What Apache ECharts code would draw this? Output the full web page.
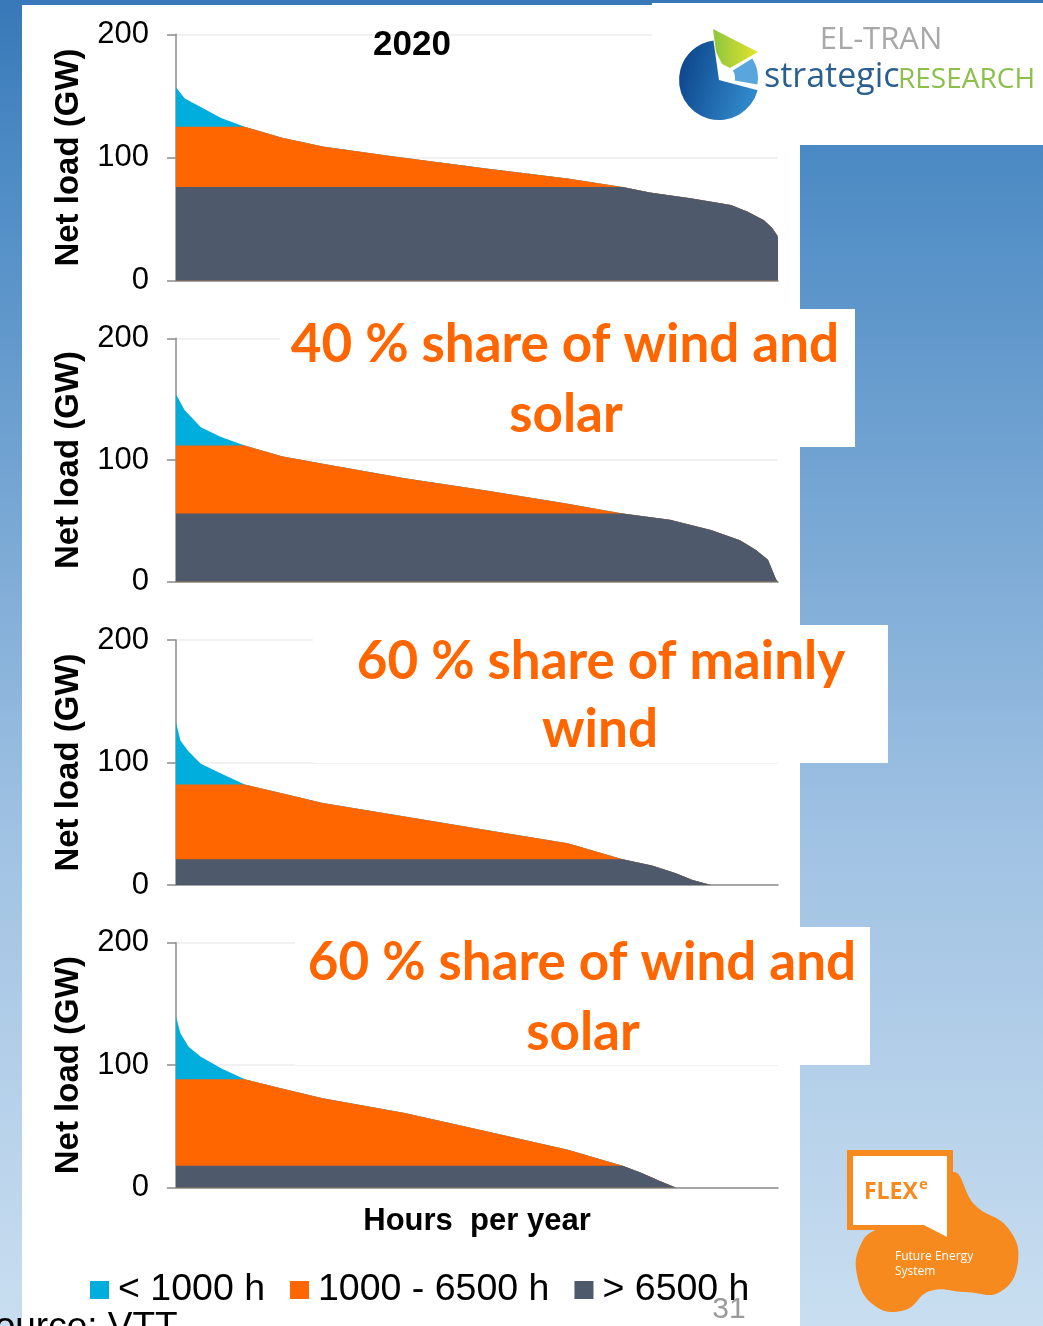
<!DOCTYPE html>
<html>
<head>
<meta charset="utf-8">
<title>Net load duration curves</title>
<script src="https://cdn.jsdelivr.net/npm/echarts@6/dist/echarts.min.js"></script>
<style>
  html, body { margin: 0; padding: 0; background: #ffffff; }
  #chart { width: 1043px; height: 1326px; }
</style>
</head>
<body>
<div id="chart"></div>
<script>
// Net load duration curves (hours of the year sorted by load, GW)
const hours2020 = [0, 124, 242, 361, 655, 1000, 1548, 2139, 3153, 4518, 5704, 6500, 6897, 7488, 8076, 8320, 8556, 8673, 8746, 8760];
const load2020  = [157, 148, 144.5, 141, 132, 125, 116, 109, 101, 91, 83, 76, 71.5, 67, 61.5, 56, 49, 43, 37, 35];

const hoursWindSolar40 = [0, 124, 361, 655, 1000, 1542, 2139, 3332, 4518, 5704, 6500, 7188, 7785, 8207, 8440, 8614, 8673, 8731, 8760];
const loadWindSolar40  = [154, 141, 127, 119, 112, 103, 97, 85, 75, 64, 56, 51, 42.5, 34, 26, 18, 10, 2, 0];

const hoursWind60 = [0, 64, 183, 361, 655, 1000, 1542, 2139, 3332, 4518, 5704, 6500, 6926, 7275, 7517, 7785, 8760];
const loadWind60  = [133, 118, 109, 99, 91, 82, 75, 67, 56, 45, 34, 21, 16, 9.5, 4, 0, 0];

const hoursWindSolar60 = [0, 64, 183, 361, 655, 1000, 1542, 2139, 3332, 4518, 5704, 6500, 6777, 7016, 7279, 8760];
const loadWindSolar60  = [140, 126, 115, 107, 97.5, 88.5, 81, 73, 61, 46, 31, 18, 12, 6, 0, 0];

// Duration bands: load level reached during the first 1000 h and 6500 h
const bandNames = ['< 1000 h', '1000 - 6500 h', '> 6500 h'];
const bandHours = [1000, 6500];
const bandColors = ['#00AEDD', '#FF6600', '#4E5A6C'];

const panels = [
  { hours: hours2020, load: load2020 },
  { hours: hoursWindSolar40, load: loadWindSolar40 },
  { hours: hoursWind60, load: loadWind60 },
  { hours: hoursWindSolar60, load: loadWindSolar60 }
];

const yTicks = { min: 0, max: 200, interval: 100 };

// layout of the four plot areas
const gridBoxes = [
  { left: 176, top: 34.3, width: 602, height: 246.4 },
  { left: 176, top: 338.3, width: 602, height: 243.4 },
  { left: 176, top: 640, width: 602, height: 245 },
  { left: 176, top: 942.7, width: 602, height: 245 }
];

const axisGrey = '#8c8c8c';
const grids = [], xAxes = [], yAxes = [], series = [];

panels.forEach(function (p, i) {
  grids.push(Object.assign({ containLabel: false }, gridBoxes[i]));
  const levelHigh = p.load[p.hours.indexOf(bandHours[0])];
  const levelLow = p.load[p.hours.indexOf(bandHours[1])];

  xAxes.push({
    gridIndex: i, type: 'value', min: 0, max: 8760,
    axisLabel: { show: false }, axisTick: { show: false }, splitLine: { show: false },
    axisLine: { lineStyle: { color: axisGrey, width: 1.5 } },
    name: i === panels.length - 1 ? 'Hours  per year' : '',
    nameLocation: 'middle', nameGap: 18,
    nameTextStyle: { fontFamily: 'Liberation Sans', fontSize: 31, fontWeight: 'bold', color: '#000' }
  });
  yAxes.push({
    gridIndex: i, type: 'value', min: yTicks.min, max: yTicks.max, interval: yTicks.interval,
    axisLine: { show: true, lineStyle: { color: axisGrey, width: 1.5 } },
    axisTick: { show: true, length: 9, lineStyle: { color: axisGrey, width: 1.5 } },
    axisLabel: { margin: 27, fontFamily: 'Liberation Sans', fontSize: 31, color: '#000' },
    splitLine: { lineStyle: { color: '#ececec', width: 1.5 } },
    name: 'Net load (GW)', nameLocation: 'middle', nameGap: 91,
    nameTextStyle: { fontFamily: 'Liberation Sans', fontSize: 33, fontWeight: 'bold', color: '#000' }
  });

  // each band is drawn as an area from zero up to the curve clipped at its level;
  // the higher bands go underneath and the lower ones are painted over them
  const full = p.hours.map(function (h, k) { return [h, p.load[k]]; });
  const belowHigh = p.hours.map(function (h, k) { return [h, Math.min(p.load[k], levelHigh)]; });
  const belowLow = p.hours.map(function (h, k) { return [h, Math.min(p.load[k], levelLow)]; });

  [[bandNames[0], full, bandColors[0]], [bandNames[1], belowHigh, bandColors[1]], [bandNames[2], belowLow, bandColors[2]]]
    .forEach(function (s) {
      series.push({
        name: s[0], type: 'line', xAxisIndex: i, yAxisIndex: i,
        data: s[1], showSymbol: false, silent: true, animation: false,
        lineStyle: { width: 0 }, itemStyle: { color: s[2] },
        areaStyle: { color: s[2], opacity: 1, origin: 'start' }
      });
    });
});

// slide decoration: background, white panels, headings and logos
const bgGradient = {
  type: 'linear', x: 0, y: 0, x2: 0, y2: 1,
  colorStops: [
    { offset: 0, color: '#3878b8' }, { offset: 0.11, color: '#4a89c3' },
    { offset: 0.63, color: '#a0c2e3' }, { offset: 1, color: '#c9def0' }
  ]
};
const orange = '#FF6600';
const headingFont = { fontFamily: 'Lato', fontWeight: 'bold', fontSize: 53, fill: orange, textAlign: 'center', textVerticalAlign: 'middle' };

function heading(text, x, y) {
  return { type: 'text', x: x, y: y, z: 21, style: Object.assign({ text: text }, headingFont) };
}
function box(x, y, w, h) {
  return { type: 'rect', z: 20, shape: { x: x, y: y, width: w, height: h }, style: { fill: '#ffffff' } };
}

const graphics = [
  { type: 'rect', z: -20, shape: { x: 0, y: 0, width: 1043, height: 1326 }, style: { fill: bgGradient } },
  { type: 'rect', z: -19, shape: { x: 22, y: 5, width: 778, height: 1321 }, style: { fill: '#ffffff' } },

  // heading boxes
  box(280, 309, 575, 138),
  heading('40 % share of wind and', 565, 345),
  heading('solar', 566, 415),
  box(313, 625, 575, 138),
  heading('60 % share of mainly', 601, 662),
  heading('wind', 600, 730),
  box(295, 927, 575, 138),
  heading('60 % share of wind and', 582, 963),
  heading('solar', 583, 1033),

  { type: 'text', x: 412, y: 45, z: 21, style: { text: '2020', fontFamily: 'Liberation Sans', fontWeight: 'bold', fontSize: 35, fill: '#000', textAlign: 'center', textVerticalAlign: 'middle' } },

  // EL-TRAN strategic research logo
  box(652, 3, 391, 142),
  { type: 'sector', z: 22, shape: { cx: 719, cy: 80, r: 40, r0: 0, startAngle: 15 * Math.PI / 180, endAngle: 262 * Math.PI / 180, clockwise: true },
    style: { fill: { type: 'linear', x: 0, y: 0, x2: 1, y2: 0.3, colorStops: [{ offset: 0, color: '#0a3f85' }, { offset: 1, color: '#2f86c8' }] } } },
  { type: 'sector', z: 22, shape: { cx: 721, cy: 78, r: 37, r0: 14, startAngle: -32 * Math.PI / 180, endAngle: 10 * Math.PI / 180, clockwise: true },
    style: { fill: '#5aa5dc' } },
  { type: 'polygon', z: 23, shape: { points: [[713, 29], [758, 52], [730, 68], [722, 64], [716, 52]] },
    style: { fill: { type: 'linear', x: 0, y: 0, x2: 1, y2: 0, colorStops: [{ offset: 0, color: '#8cc63f' }, { offset: 1, color: '#e6e32a' }] } } },
  { type: 'text', x: 881, y: 40, z: 22, style: { text: 'EL-TRAN', fontFamily: 'Open Sans', fontSize: 31, fill: '#a8a8a8', textAlign: 'center', textVerticalAlign: 'middle' } },
  { type: 'text', x: 764, y: 94, z: 22, style: { text: 'strategic', fontFamily: 'Open Sans', fontSize: 34, fill: '#2b5f8e', textAlign: 'left', textVerticalAlign: 'bottom' } },
  { type: 'text', x: 898, y: 94, z: 22, style: { text: 'RESEARCH', fontFamily: 'Open Sans', fontSize: 28, fill: '#8cc04a', textAlign: 'left', textVerticalAlign: 'bottom' } },

  // FLEXe logo
  { type: 'polygon', z: 22, shape: { smooth: 0.45, points: [[880, 1228], [925, 1212], [953, 1172], [975, 1205], [1008, 1228], [1018, 1262], [1000, 1292], [965, 1292], [930, 1291], [905, 1310], [875, 1306], [857, 1275], [862, 1242]] },
    style: { fill: '#F68A1E' } },
  { type: 'rect', z: 23, shape: { x: 847, y: 1150, width: 106, height: 80 }, style: { fill: '#F68A1E' } },
  { type: 'rect', z: 24, shape: { x: 853, y: 1156, width: 94, height: 69 }, style: { fill: '#ffffff' } },
  { type: 'polygon', z: 24, shape: { points: [[922, 1224], [947, 1224], [947, 1237]] }, style: { fill: '#ffffff' } },
  { type: 'text', x: 864, y: 1192, z: 25, style: { text: 'FLEX', fontFamily: 'Open Sans', fontWeight: 'bold', fontSize: 23, fill: '#F68A1E', textAlign: 'left', textVerticalAlign: 'middle' } },
  { type: 'text', x: 919, y: 1185, z: 25, style: { text: 'e', fontFamily: 'Open Sans', fontWeight: 'bold', fontSize: 15, fill: '#F68A1E', textAlign: 'left', textVerticalAlign: 'middle' } },
  { type: 'text', x: 895, y: 1257, z: 25, style: { text: 'Future Energy', fontFamily: 'Open Sans', fontSize: 12, fill: '#ffffff', textAlign: 'left', textVerticalAlign: 'middle' } },
  { type: 'text', x: 895, y: 1272, z: 25, style: { text: 'System', fontFamily: 'Open Sans', fontSize: 12, fill: '#ffffff', textAlign: 'left', textVerticalAlign: 'middle' } },

  // footer
  { type: 'text', x: 729, y: 1310, z: 25, style: { text: '31', fontFamily: 'Liberation Sans', fontSize: 30, fill: '#9a9a9a', textAlign: 'center', textVerticalAlign: 'middle' } },
  { type: 'text', x: -30, y: 1328, z: 25, style: { text: 'Source: VTT', fontFamily: 'Liberation Sans', fontSize: 37, fill: '#000', textAlign: 'left', textVerticalAlign: 'middle' } }
];

const chart = echarts.init(document.getElementById('chart'), null, { renderer: 'canvas', width: 1043, height: 1326 });
chart.setOption({
  animation: false,
  grid: grids,
  xAxis: xAxes,
  yAxis: yAxes,
  legend: {
    data: bandNames, left: 90, top: 1271, padding: 0,
    itemWidth: 19, itemHeight: 18, itemGap: 25, icon: 'rect',
    textStyle: { fontFamily: 'Liberation Sans', fontSize: 37.5, color: '#000', padding: [0, 0, 0, 4] }
  },
  graphic: { elements: graphics },
  series: series
});
</script>
</body>
</html>
